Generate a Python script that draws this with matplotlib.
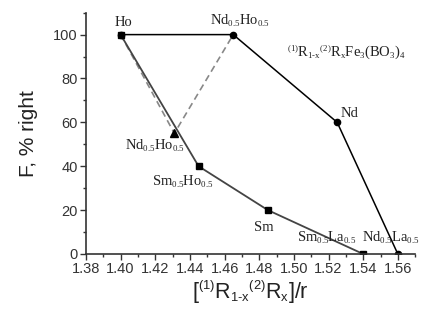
import matplotlib
matplotlib.use('Agg')
from matplotlib import pyplot as plt
from matplotlib.ticker import MultipleLocator
import matplotlib._mathtext as mt

plt.rcParams['mathtext.default'] = 'regular'
mt.SHRINK_FACTOR = 0.6

# Nd series (circles)
nd_x = [1.400, 1.465, 1.525, 1.560]
nd_y = [100, 100, 60, 0]
# Sm series (squares)
sm_x = [1.400, 1.445, 1.485, 1.540]
sm_y = [100, 40, 20, 0]
# dashed Nd0.5Ho0.5 branch (triangle)
tri_x = [1.400, 1.431, 1.465]
tri_y = [100, 55, 100]

# point labels: (text, x, y, dx, dy) offsets in points
labels = [
    ('Ho', 1.400, 100, 2, 6),
    ('Nd$_{0.5}$Ho$_{0.5}$', 1.465, 100, 5, 7),
    ('Nd', 1.525, 60, 9, 4),
    ('Nd$_{0.5}$Ho$_{0.5}$', 1.431, 55, -14, -12),
    ('Sm$_{0.5}$Ho$_{0.5}$', 1.445, 40, -11, -14),
    ('Sm', 1.485, 20, -3, -15),
    ('Sm$_{0.5}$La$_{0.5}$', 1.540, 0, -26, 9),
    ('Nd$_{0.5}$La$_{0.5}$', 1.560, 0, -5, 9),
]
formula = '$^{(1)}$R$_{1\u2010x}$$^{(2)}$R$_x$Fe$_3$(BO$_3$)$_4$'

fig = plt.figure(figsize=(4.32, 3.09), dpi=100)
ax = fig.add_axes([0.199, 0.178, 0.762, 0.781])

ax.plot(tri_x, tri_y, color='#888888', lw=1.2, ls=(0, (4, 2.5)),
        marker='^', markevery=[1], ms=6, mfc='black', mec='black')
ax.plot(sm_x, sm_y, color='#444444', lw=1.3, marker='s', ms=4.5,
        mfc='black', mec='black')
ax.plot(nd_x, nd_y, color='black', lw=1.1, marker='o', ms=4.5,
        mfc='black', mec='black')

serif = ['Liberation Serif', 'DejaVu Serif']
for txt, x, y, dx, dy in labels:
    ax.annotate(txt, (x, y), xytext=(dx, dy), textcoords='offset points',
                ha='center', va='baseline', fontsize=10.5, family=serif,
                color='#222222')
ax.text(0.611, 0.837, formula, transform=ax.transAxes, ha='left', va='center',
        fontsize=10.5, family=serif, color='#222222')

ax.set_xlim(1.38, 1.57)
ax.set_ylim(0, 110)
ax.xaxis.set_minor_locator(MultipleLocator(0.01))
ax.yaxis.set_major_locator(MultipleLocator(20))
ax.yaxis.set_minor_locator(MultipleLocator(10))
ax.set_xticks([1.38, 1.40, 1.42, 1.44, 1.46, 1.48, 1.50, 1.52, 1.54, 1.56])
ax.set_xticklabels(['1.38', '1.40', '1.42', '1.44', '1.46', '1.48', '1.50',
                    '1.52', '1.54', '1.56'])
for s in ['top', 'right']:
    ax.spines[s].set_visible(False)
for s in ['left', 'bottom']:
    ax.spines[s].set_linewidth(1.2)
    ax.spines[s].set_color('#333333')
ax.tick_params(which='major', direction='out', length=4.5, width=1,
               colors='#333333', labelsize=10.5, pad=1.5)
ax.tick_params(which='minor', direction='out', length=2.5, width=1,
               colors='#333333')
for lab in ax.get_xticklabels() + ax.get_yticklabels():
    lab.set_family('Liberation Sans')

ax.set_ylabel('F, % right', fontsize=15, family='Liberation Sans',
              color='#222222', labelpad=11)
ax.set_xlabel('[$^{(1)}$R$_{1\u2010x}$$^{(2)}$R$_x$]/r', fontsize=15.5,
              family='Liberation Sans', color='#222222', labelpad=1)

fig.savefig('out.png', dpi=100)
